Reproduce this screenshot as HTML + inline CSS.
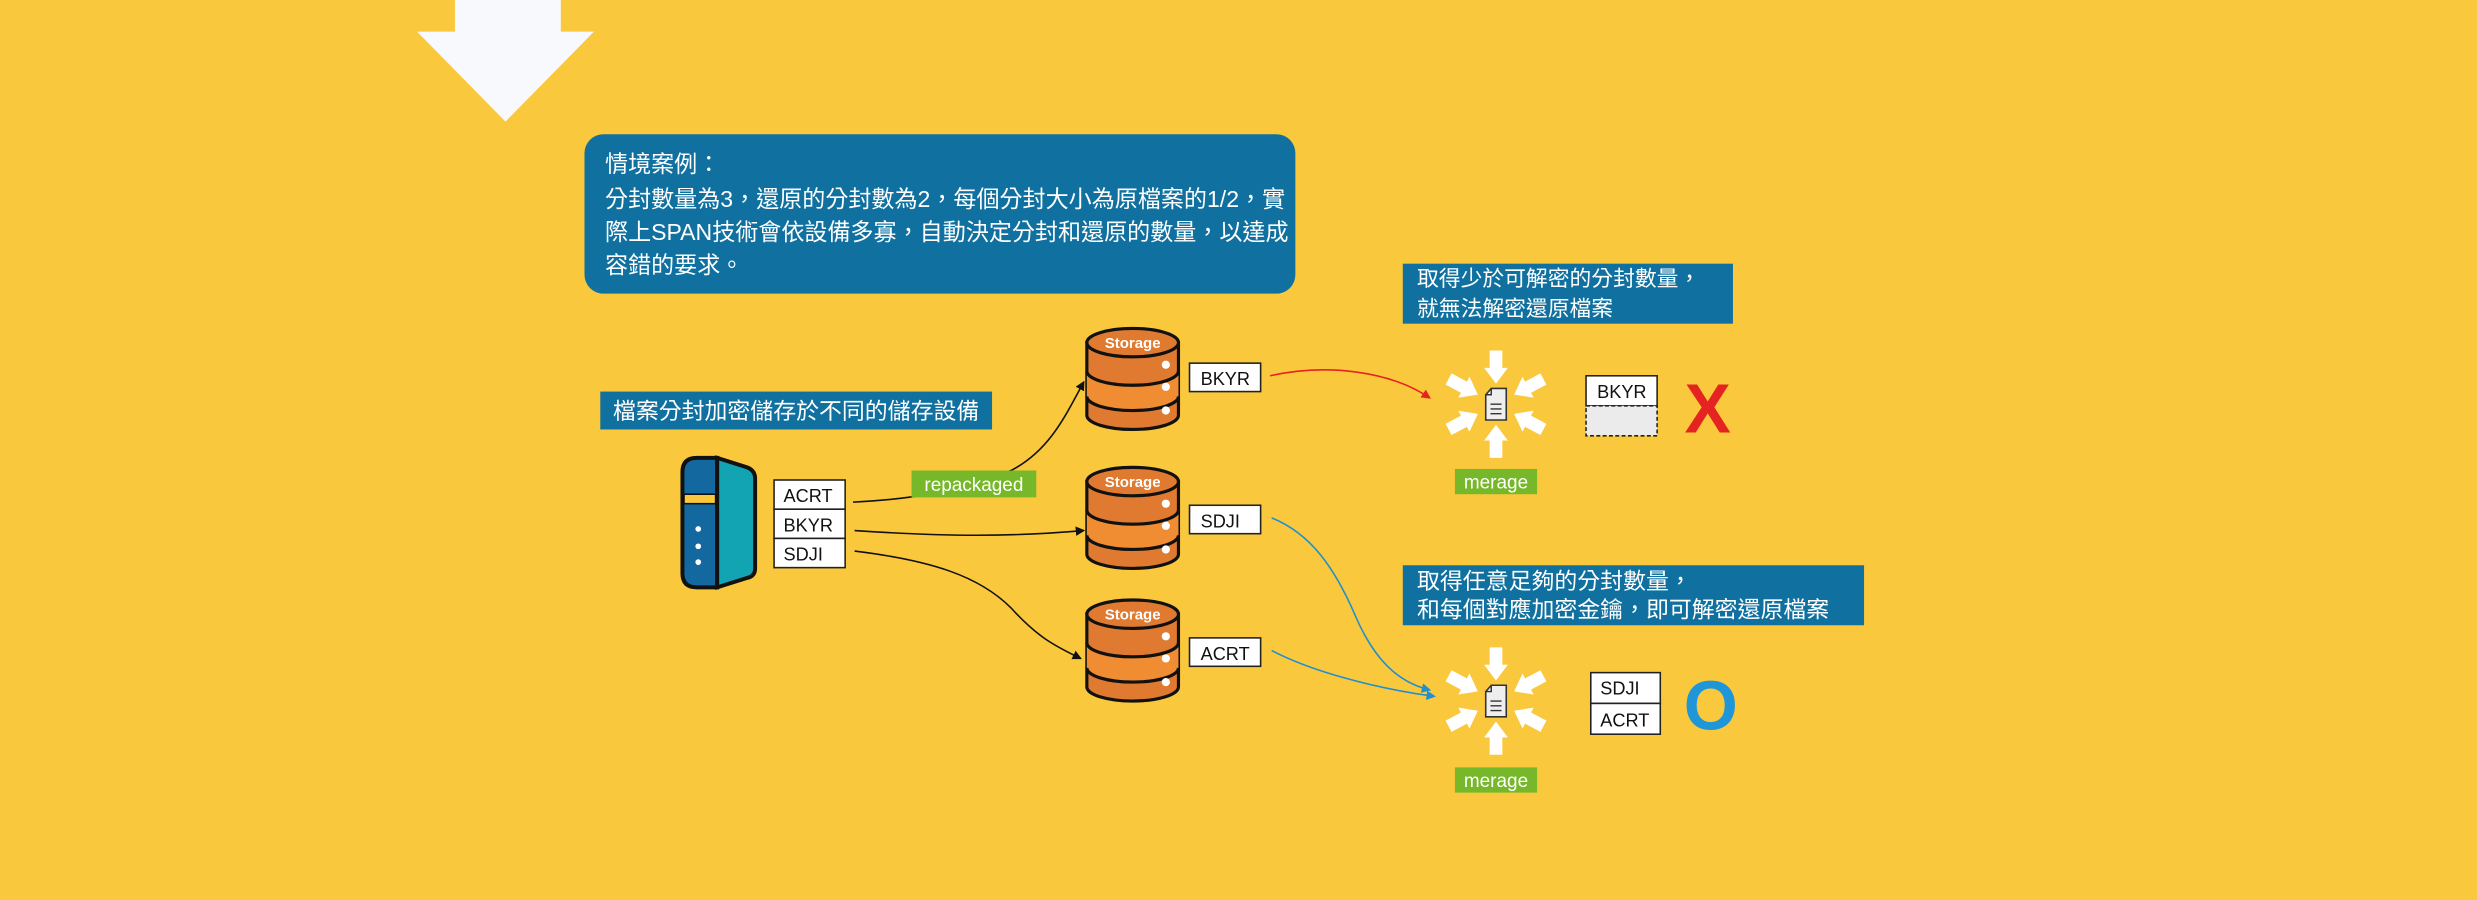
<!DOCTYPE html>
<html><head><meta charset="utf-8"><style>
html,body{margin:0;padding:0;background:#fac83d;}
svg{display:block}
text{font-family:"Liberation Sans","Noto Sans CJK TC",sans-serif;}
</style></head><body>
<svg width="2477" height="900" viewBox="0 0 1568 570" preserveAspectRatio="none" xmlns="http://www.w3.org/2000/svg">
<defs>
<marker id="ab" markerWidth="6" markerHeight="6" refX="5" refY="3" orient="auto" markerUnits="userSpaceOnUse"><path d="M0,0 L6,3 L0,6 Z" fill="#111"/></marker>
<marker id="ar" markerWidth="6" markerHeight="6" refX="5" refY="3" orient="auto" markerUnits="userSpaceOnUse"><path d="M0,0 L6,3 L0,6 Z" fill="#e52421"/></marker>
<marker id="au" markerWidth="6" markerHeight="6" refX="5" refY="3" orient="auto" markerUnits="userSpaceOnUse"><path d="M0,0 L6,3 L0,6 Z" fill="#1f8fd0"/></marker>
<g id="cyl">
<path d="M0,9 L0,55 A29,9 0 0 0 58,55 L58,9 Z" fill="#df7a30" stroke="#111" stroke-width="2"/>
<path d="M0,27 A29,9 0 0 0 58,27 L58,43 A29,9 0 0 1 0,43 Z" fill="#f08c32"/>
<path d="M0,27 A29,9 0 0 0 58,27 M0,43 A29,9 0 0 0 58,43" fill="none" stroke="#111" stroke-width="2"/>
<ellipse cx="29" cy="9" rx="29" ry="9" fill="#df7a30" stroke="#111" stroke-width="2"/>
<text x="29" y="12.5" font-size="9.5" font-weight="bold" fill="#fff" text-anchor="middle">Storage</text>
<circle cx="50" cy="23" r="2.6" fill="#fff"/><circle cx="50" cy="37" r="2.6" fill="#fff"/><circle cx="50" cy="52" r="2.6" fill="#fff"/>
</g>
<polygon id="marr" points="-4,-34 4,-34 4,-23 7.5,-23 0,-13 -7.5,-23 -4,-23" fill="#fff"/>
<g id="merge">
<use href="#marr" transform="rotate(0)"/>
<use href="#marr" transform="rotate(180)"/>
<use href="#marr" transform="rotate(62)"/>
<use href="#marr" transform="rotate(118)"/>
<use href="#marr" transform="rotate(242)"/>
<use href="#marr" transform="rotate(298)"/>
<path d="M-3,-10 L6.5,-10 L6.5,10 L-6.5,10 L-6.5,-6 Z" fill="#eee" stroke="#333" stroke-width="1"/>
<path d="M-6.5,-6 L-3,-6 L-3,-10" fill="none" stroke="#333" stroke-width="0.9"/>
<path d="M-3.5,0 H3.5 M-3.5,3 H3.5 M-3.5,6 H3.5" stroke="#333" stroke-width="0.9"/>
</g>
</defs>

<!-- top arrow -->
<polygon points="288,0 355,0 355,20 376,20 320,77 264,20 288,20" fill="#f8f9fc"/>

<!-- main box -->
<rect x="370" y="85" width="450" height="101" rx="12" fill="#1071a0"/>
<g font-size="14.6" fill="#fff">
<text x="383" y="109">情境案例：</text>
<text x="383" y="131">分封數量為3，還原的分封數為2，每個分封大小為原檔案的1/2，實</text>
<text x="383" y="152">際上SPAN技術會依設備多寡，自動決定分封和還原的數量，以達成</text>
<text x="383" y="173">容錯的要求。</text>
</g>

<!-- label 1 -->
<rect x="380" y="248" width="248" height="24" fill="#1071a0"/>
<text x="388" y="265.5" font-size="14.5" fill="#fff">檔案分封加密儲存於不同的儲存設備</text>

<!-- server -->
<path d="M441,290 Q432,290 432,299 L432,363 Q432,372 441,372 L454,372 L454,290 Z" fill="#1468a0" stroke="#111" stroke-width="2.5"/>
<path d="M454,290 L473,296 Q478,298 478,303 L478,360 Q478,365 473,366 L454,372 Z" fill="#12a4b2" stroke="#111" stroke-width="2.5"/>
<rect x="433" y="313" width="20" height="6" fill="#fac83d" stroke="#111" stroke-width="1"/>
<circle cx="442" cy="335" r="1.8" fill="#fff"/><circle cx="442" cy="346" r="1.8" fill="#fff"/><circle cx="442" cy="356" r="1.8" fill="#fff"/>

<!-- data stack -->
<g stroke="#222" stroke-width="1" fill="#fff">
<rect x="490" y="304" width="45" height="18.5"/><rect x="490" y="322.5" width="45" height="18.5"/><rect x="490" y="341" width="45" height="18.5"/>
</g>
<g font-size="11.5" fill="#111">
<text x="496" y="318">ACRT</text><text x="496" y="336.5">BKYR</text><text x="496" y="355">SDJI</text>
</g>

<!-- black connectors -->
<path d="M540,318 C580,316 600,312 640,298 C665,285 675,262 686,242" fill="none" stroke="#111" stroke-width="1" marker-end="url(#ab)"/>
<path d="M541,336 C600,340 640,340 686,336" fill="none" stroke="#111" stroke-width="1" marker-end="url(#ab)"/>
<path d="M541,349 C590,355 620,365 640,385 C658,405 670,410 684,417" fill="none" stroke="#111" stroke-width="1" marker-end="url(#ab)"/>

<rect x="577" y="298" width="79" height="17" fill="#76b82a"/>
<text x="616.5" y="311" font-size="12" fill="#fff" text-anchor="middle">repackaged</text>

<!-- storages -->
<use href="#cyl" x="688" y="208"/>
<use href="#cyl" x="688" y="296"/>
<use href="#cyl" x="688" y="380"/>
<g stroke="#222" stroke-width="1" fill="#fff">
<rect x="753" y="230" width="45" height="18"/><rect x="753" y="320" width="45" height="18"/><rect x="753" y="404" width="45" height="18"/>
</g>
<g font-size="11.5" fill="#111">
<text x="760" y="244">BKYR</text><text x="760" y="334">SDJI</text><text x="760" y="418">ACRT</text>
</g>

<!-- colored connectors -->
<path d="M804,238 C840,230 880,235 905,252" fill="none" stroke="#e52421" stroke-width="1" marker-end="url(#ar)"/>
<path d="M805,328 C830,338 845,360 858,390 C870,418 885,432 905,437" fill="none" stroke="#1f8fd0" stroke-width="1" marker-end="url(#au)"/>
<path d="M805,412 C830,425 870,436 908,441" fill="none" stroke="#1f8fd0" stroke-width="1" marker-end="url(#au)"/>

<!-- info box 2 -->
<rect x="888" y="167" width="209" height="38" fill="#1071a0"/>
<g font-size="13.8" fill="#fff"><text x="897" y="181">取得少於可解密的分封數量，</text><text x="897" y="200">就無法解密還原檔案</text></g>

<use href="#merge" x="947" y="256"/>
<rect x="921" y="297" width="52" height="16" fill="#76b82a"/>
<text x="947" y="309.5" font-size="12" fill="#fff" text-anchor="middle">merage</text>

<rect x="1004" y="238" width="45" height="19" fill="#fff" stroke="#222" stroke-width="1"/>
<rect x="1004" y="257" width="45" height="19" fill="#ebebeb" stroke="#222" stroke-width="1" stroke-dasharray="2.5,1.5"/>
<text x="1011" y="252" font-size="11.5" fill="#111">BKYR</text>
<text x="1081" y="274" font-size="44" font-weight="bold" fill="#e52421" text-anchor="middle">X</text>

<!-- info box 3 -->
<rect x="888" y="358" width="292" height="38" fill="#1071a0"/>
<g font-size="14.5" fill="#fff"><text x="897" y="373">取得任意足夠的分封數量，</text><text x="897" y="391">和每個對應加密金鑰，即可解密還原檔案</text></g>

<use href="#merge" x="947" y="444"/>
<rect x="921" y="486" width="52" height="16" fill="#76b82a"/>
<text x="947" y="498.5" font-size="12" fill="#fff" text-anchor="middle">merage</text>

<rect x="1007" y="426" width="44" height="19.5" fill="#fff" stroke="#222" stroke-width="1"/>
<rect x="1007" y="445.5" width="44" height="19.5" fill="#fff" stroke="#222" stroke-width="1"/>
<g font-size="11.5" fill="#111"><text x="1013" y="440">SDJI</text><text x="1013" y="460">ACRT</text></g>
<text x="1083" y="462" font-size="44" font-weight="bold" fill="#1f96d8" text-anchor="middle">O</text>
</svg>
</body></html>
